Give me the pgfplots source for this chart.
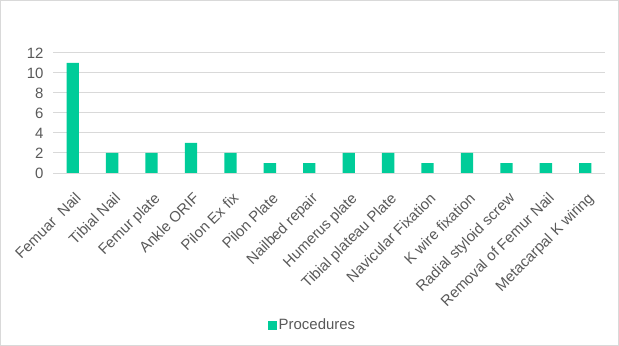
\documentclass[border=0pt]{standalone}
\usepackage{pgfplots}
\pgfplotsset{compat=1.18}
\usepackage{fontspec}
\setmainfont{Liberation Sans}
\definecolor{barc}{RGB}{0,204,153}
\definecolor{txt}{RGB}{89,89,89}
\definecolor{gridc}{RGB}{217,217,217}
\begin{document}
\begin{tikzpicture}
\draw[gridc, line width=1bp] (0.5bp,0.5bp) rectangle (618.5bp,345.5bp);
\begin{axis}[
  at={(53bp,173bp)}, anchor=south west,
  scale only axis, width=552bp, height=120bp,
  xmin=-0.5, xmax=13.5, ymin=0, ymax=12,
  ytick={0,2,...,12},
  xtick=data,
  xticklabels={Femuar\ \ Nail, Tibial Nail, Femur plate, Ankle ORIF, Pilon Ex fix, Pilon Plate, Nailbed repair, Humerus plate, Tibial plateau Plate, Navicular Fixation, K wire fixation, Radial styloid screw, Removal of Femur Nail, Metacarpal K wiring},
  x tick label style={rotate=45, anchor=north east, inner sep=1bp, xshift=-11bp, yshift=-13bp},
  y tick label style={xshift=-6bp},
  tick label style={font=\fontsize{15}{18}\selectfont, text=txt},
  /pgf/number format/assume math mode=true,
  major tick length=0pt,
  axis x line*=bottom, axis y line*=left,
  x axis line style={gridc, line width=1bp, -},
  y axis line style={draw=none},
  ymajorgrids, grid style={gridc, line width=1bp},
  ybar, bar width=12.3bp,
  legend style={at={(0.47,-1.267)}, anchor=center, draw=none, font=\fontsize{15}{18}\selectfont, text=txt, inner sep=0pt},
  legend image code/.code={\fill[barc] (0bp,-4.5bp) rectangle (9bp,4.5bp);},
]
\addplot[fill=barc, draw=none] coordinates {(0,11) (1,2) (2,2) (3,3) (4,2) (5,1) (6,1) (7,2) (8,2) (9,1) (10,2) (11,1) (12,1) (13,1)};
\addlegendentry{Procedures}
\end{axis}
\end{tikzpicture}
\end{document}
